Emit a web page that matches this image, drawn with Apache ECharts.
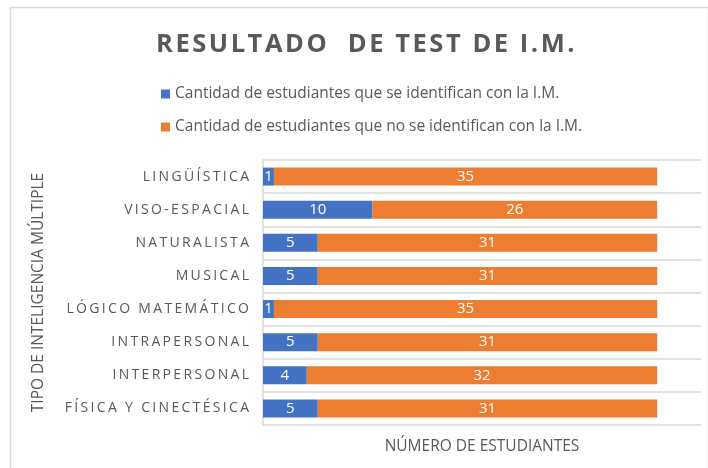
<!DOCTYPE html>
<html>
<head>
<meta charset="utf-8">
<script src="https://cdn.jsdelivr.net/npm/echarts@6/dist/echarts.min.js"></script>
<style>
    html, body { margin: 0; padding: 0; background: #fff; }
    #chart { width: 708px; height: 468px; }
</style>
</head>
<body>
<div id="chart"></div>
<script>
// categorias, de abajo hacia arriba (el eje Y de echarts empieza abajo)
let categories = ['FÍSICA Y CINECTÉSICA', 'INTERPERSONAL', 'INTRAPERSONAL', 'LÓGICO MATEMÁTICO',
    'MUSICAL', 'NATURALISTA', 'VISO-ESPACIAL', 'LINGÜÍSTICA'];
let siIdentifican = [5, 4, 5, 1, 5, 5, 10, 1];
let noIdentifican = [31, 32, 31, 35, 31, 31, 26, 35];
let seriesNames = ['Cantidad de estudiantes que se identifican con la I.M.',
    'Cantidad de estudiantes que no se identifican con la I.M.'];

let gris = '#595959';
let fuente = 'Open Sans';

// espaciado entre letras como en el original
function espaciar(txt, sep) {
    return txt.split('').join(sep || '\u2009');
}

let chart = echarts.init(document.getElementById('chart'), null, { renderer: 'canvas' });

const option = {
    animation: false,
    backgroundColor: '#fff',
    title: {
        text: espaciar('RESULTADO  DE TEST DE I.M.', '\u200A'),
        left: 151,
        top: 27,
        textStyle: {
            color: gris,
            fontFamily: fuente,
            fontSize: 25.5,
            fontWeight: 'bold'
        }
    },
    legend: {
        orient: 'vertical',
        left: 156,
        top: 81,
        itemGap: 17,
        itemWidth: 9,
        itemHeight: 9,
        icon: 'rect',
        textStyle: {
            color: gris,
            fontFamily: fuente,
            fontSize: 15.5
        },
        data: seriesNames
    },
    grid: {
        left: 263,
        right: 7,
        top: 160,
        bottom: 43
    },
    xAxis: {
        type: 'value',
        min: 0,
        max: 40,
        name: 'NÚMERO DE ESTUDIANTES',
        nameLocation: 'middle',
        nameGap: 14,
        nameTextStyle: {
            color: gris,
            fontFamily: fuente,
            fontSize: 15.5
        },
        axisLabel: { show: false },
        axisTick: { show: false },
        axisLine: { show: false },
        splitLine: { show: false }
    },
    yAxis: {
        type: 'category',
        data: categories,
        name: 'TIPO DE INTELIGENCIA MÚLTIPLE',
        nameLocation: 'middle',
        nameGap: 216,
        nameRotate: 90,
        nameTextStyle: {
            color: gris,
            fontFamily: fuente,
            fontSize: 15.5
        },
        axisLine: { show: true, lineStyle: { color: '#d9d9d9', width: 1.5 } },
        axisTick: { show: false },
        axisLabel: {
            color: gris,
            fontFamily: fuente,
            fontSize: 14,
            margin: 14,
            formatter: function (v) {
                return espaciar(v);
            }
        },
        splitLine: { show: true, lineStyle: { color: '#d9d9d9', width: 1.5 } }
    },
    series: [
        {
            name: seriesNames[0],
            type: 'bar',
            stack: 'total',
            barWidth: 18,
            itemStyle: { color: '#4472C4' },
            label: {
                show: true,
                position: 'inside',
                color: '#fff',
                fontFamily: fuente,
                fontSize: 15
            },
            data: siIdentifican
        },
        {
            name: seriesNames[1],
            type: 'bar',
            stack: 'total',
            barWidth: 18,
            itemStyle: { color: '#ED7D31' },
            label: {
                show: true,
                position: 'inside',
                color: '#fff',
                fontFamily: fuente,
                fontSize: 15
            },
            data: noIdentifican
        }
    ],
    graphic: [
        {
            type: 'rect',
            left: 8,
            top: 5,
            shape: { width: 698, height: 470 },
            style: { fill: 'none', stroke: '#d9d9d9', lineWidth: 1.5 },
            silent: true
        }
    ]
};

chart.setOption(option);
</script>
</body>
</html>
